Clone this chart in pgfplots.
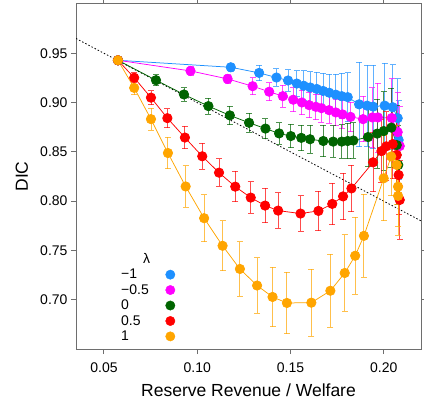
\documentclass[border=0pt]{standalone}
\usepackage{fontspec}
\setmainfont{Liberation Sans}
\usepackage{pgfplots}
\pgfplotsset{compat=1.18}
\definecolor{cblue}{RGB}{30,144,255}
\definecolor{cmag}{RGB}{255,0,255}
\definecolor{cgreen}{RGB}{0,100,0}
\definecolor{cred}{RGB}{255,0,0}
\definecolor{corange}{RGB}{255,165,0}
\definecolor{axgray}{RGB}{110,110,110}

\pgfplotstableread{
x y e
0.0575 0.9429 0.002
0.1180 0.9358 0.004
0.1332 0.9301 0.008
0.1425 0.9254 0.009
0.1487 0.9224 0.011
0.1534 0.9193 0.013
0.1571 0.9171 0.015
0.1606 0.9153 0.016
0.1641 0.9138 0.017
0.1675 0.9118 0.018
0.1708 0.9100 0.019
0.1743 0.9080 0.021
0.1775 0.9065 0.023
0.1807 0.9055 0.025
0.1868 0.8982 0.043
0.1911 0.8969 0.041
0.1943 0.8959 0.042
0.2005 0.8969 0.043
0.2048 0.8953 0.043
0.2075 0.8842 0.040
0.2080 0.8620 0.040
}\blue

\pgfplotstableread{
x y e
0.0575 0.9429 0.002
0.0964 0.9321 0.005
0.1163 0.9240 0.005
0.1297 0.9166 0.0085
0.1386 0.9110 0.009
0.1459 0.9065 0.011
0.1515 0.9029 0.012
0.1561 0.9001 0.0125
0.1600 0.8974 0.013
0.1636 0.8957 0.013
0.1666 0.8943 0.014
0.1707 0.8923 0.0135
0.1743 0.8900 0.0135
0.1779 0.8880 0.014
0.1822 0.8855 0.015
0.1889 0.8832 0.023
0.1939 0.8849 0.030
0.1969 0.8849 0.035
0.2043 0.8843 0.040
0.2075 0.8700 0.040
0.2086 0.8559 0.040
}\magenta

\pgfplotstableread{
x y e
0.0575 0.9429 0.002
0.0779 0.9227 0.0054
0.0929 0.9082 0.007
0.1060 0.8964 0.008
0.1175 0.8870 0.0095
0.1278 0.8795 0.0095
0.1366 0.8736 0.010
0.1439 0.8687 0.011
0.1502 0.8660 0.012
0.1558 0.8642 0.013
0.1605 0.8628 0.014
0.1676 0.8610 0.016
0.1729 0.8604 0.016
0.1775 0.8604 0.017
0.1807 0.8610 0.018
0.1837 0.8615 0.018
0.1916 0.8650 0.030
0.1965 0.8685 0.035
0.2000 0.8711 0.040
0.2041 0.8746 0.040
0.2070 0.8569 0.040
0.2078 0.8367 0.040
}\green

\pgfplotstableread{
x y e
0.0575 0.9429 0.002
0.0662 0.9252 0.005
0.0752 0.9050 0.007
0.0840 0.8842 0.0095
0.0934 0.8645 0.0115
0.1027 0.8455 0.013
0.1117 0.8289 0.014
0.1204 0.8147 0.0155
0.1287 0.8036 0.016
0.1364 0.7955 0.0175
0.1434 0.7904 0.018
0.1554 0.7874 0.018
0.1650 0.7901 0.020
0.1724 0.7972 0.021
0.1782 0.8048 0.0235
0.1827 0.8129 0.0235
0.1943 0.8394 0.030
0.1988 0.8508 0.032
0.2014 0.8556 0.035
0.2048 0.8579 0.035
0.2070 0.8468 0.040
0.2080 0.8265 0.040
0.2086 0.8012 0.040
}\red

\pgfplotstableread{
x y e
0.0575 0.9429 0.002
0.0662 0.9149 0.0068
0.0752 0.8832 0.011
0.0843 0.8488 0.016
0.0938 0.8149 0.021
0.1037 0.7827 0.024
0.1136 0.7547 0.0255
0.1229 0.7312 0.0275
0.1321 0.7144 0.028
0.1404 0.7028 0.030
0.1481 0.6967 0.031
0.1612 0.6970 0.034
0.1714 0.7091 0.037
0.1791 0.7271 0.039
0.1847 0.7446 0.039
0.1894 0.7648 0.042
0.2000 0.8232 0.043
0.2040 0.8453 0.040
0.2070 0.8367 0.040
0.2077 0.8147 0.040
0.2077 0.8053 0.040
}\orange

\pgfplotsset{
  series/.style={forget plot, color=#1, line width=0.75bp, mark=*, mark size=4.7bp,
    mark options={fill=#1, draw=#1, solid},
    error bars/.cd, y dir=both, y explicit,
    error bar style={color=#1, opacity=0.7, line width=0.9bp},
    error mark options={rotate=90, mark size=3bp, color=#1, opacity=0.7, line width=0.9bp}},
  legmark/.style={only marks, mark=*, mark size=4.7bp, color=#1, mark options={fill=#1, draw=#1}}
}

\begin{document}
\begin{tikzpicture}
\useasboundingbox (0,0) rectangle (424bp,406bp);
\begin{axis}[
  at={(76bp,57bp)}, anchor=south west,
  scale only axis, width=345bp, height=345bp,
  xmin=0.035, xmax=0.22, ymin=0.65, ymax=1.0,
  xtick={0.05,0.10,0.15,0.20}, xticklabels={0.05,0.10,0.15,0.20},
  ytick={0.70,0.75,0.80,0.85,0.90,0.95}, yticklabels={0.70,0.75,0.80,0.85,0.90,0.95},
  tick align=outside, major tick length=5bp,
  axis line style={color=axgray, line width=1bp},
  tick style={color=axgray, line width=1bp},
  every tick label/.append style={font=\fontsize{14bp}{16bp}\selectfont, text=black},
  xticklabel style={yshift=-5.5bp},
  label style={font=\fontsize{17.5bp}{20bp}\selectfont},
  xlabel={Reserve Revenue / Welfare}, ylabel={DIC},
  xlabel style={at={(axis description cs:0.5,-0.139)}, anchor=base},
  ylabel style={at={(axis description cs:-0.157,0.5)}, anchor=center},
  legend plot pos=right, legend cell align=left,
  legend style={at={(axis description cs:0.1275,0.281)}, anchor=north west,
    draw=none, fill=none, inner sep=0pt, row sep=2.2bp, column sep=12bp,
    font=\fontsize{14bp}{16bp}\selectfont,
    nodes={inner sep=1bp}},
]
\addplot[forget plot, black, line width=0.8bp, dash pattern=on 1.5bp off 2bp] coordinates {(0.035,0.965) (0.22,0.78)};
\addplot[series=cblue] table[x=x,y=y,y error=e] {\blue};
\addplot[series=cmag] table[x=x,y=y,y error=e] {\magenta};
\addplot[series=cgreen] table[x=x,y=y,y error=e] {\green};
\addplot[series=cred] table[x=x,y=y,y error=e] {\red};
\addplot[series=corange] table[x=x,y=y,y error=e] {\orange};
\addlegendimage{empty legend}\addlegendentry{\rlap{\hspace{22bp}λ}}
\addlegendimage{legmark=cblue}\addlegendentry{−1}
\addlegendimage{legmark=cmag}\addlegendentry{−0.5}
\addlegendimage{legmark=cgreen}\addlegendentry{0}
\addlegendimage{legmark=cred}\addlegendentry{0.5}
\addlegendimage{legmark=corange}\addlegendentry{1}
\end{axis}
\end{tikzpicture}
\end{document}
